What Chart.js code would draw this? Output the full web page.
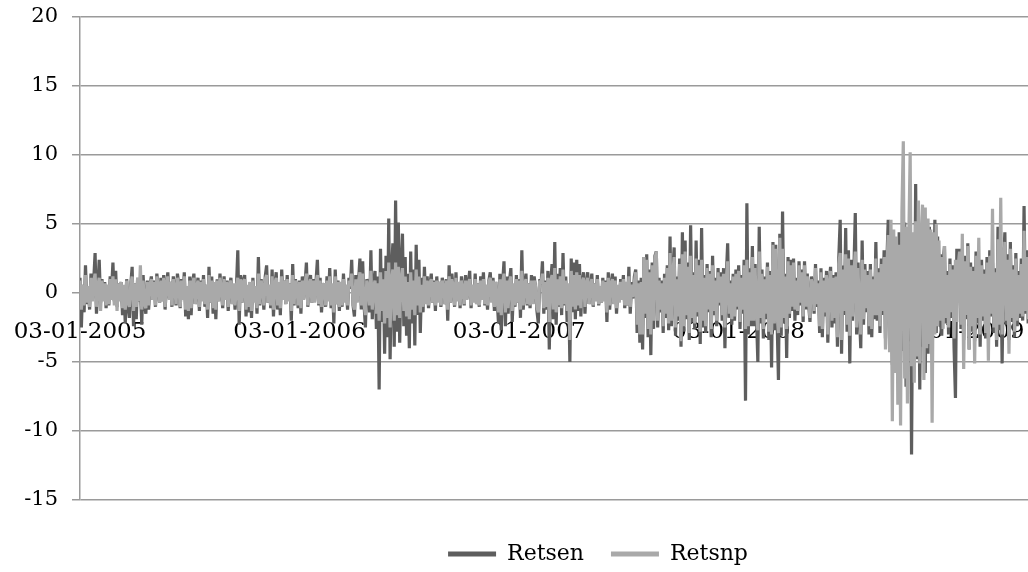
<!DOCTYPE html>
<html>
<head>
<meta charset="utf-8">
<script src="https://cdn.jsdelivr.net/npm/chart.js@4/dist/chart.umd.min.js"></script>
<style>
  html, body { margin: 0; padding: 0; background: #ffffff; overflow: hidden; width: 1028px; height: 572px; }
  #wrap { width: 1116px; height: 572px; }
</style>
</head>
<body>
<div id="wrap"><canvas id="c" width="1116" height="572"></canvas></div>
<script>
// Daily returns (%), one value per trading-day sample, Jan 2005 – Apr 2009
const retsen = [
  1.1, -2.5, 0.6, -1.4, 2.0, -0.8, 0.3, -1.2, 1.4, -0.5,
  0.9, 2.9, -1.5, 0.4, 2.4, -0.7, 1.0, -0.3, 0.8, -1.1,
  0.5, -0.9, 1.2, 0.2, 2.2, -0.6, 1.6, -1.0, 0.7, -0.4,
  0.8, -1.6, 0.3, -2.2, 1.0, -0.9, -1.8, 0.6, 1.9, -2.4,
  0.7, -1.9, 1.1, -0.6, 0.4, -2.3, 1.3, -0.8, -1.5, 0.9,
  -1.2, 0.6, 1.2, -0.5, 0.9, -1.0, 1.4, 0.3, -0.7, 1.1,
  -0.6, 1.3, -1.2, 0.5, 1.5, -0.4, 0.8, -1.0, 1.2, 0.2,
  -0.9, 1.4, 0.6, -1.1, 1.0, -0.3, 1.5, -1.7, 0.4, -1.9,
  1.2, -1.6, 0.7, 1.4, -0.8, 0.3, 1.1, -1.3, 0.9, -0.5,
  1.3, -1.0, 0.6, -1.8, 1.9, -0.7, 1.2, -1.5, 0.8, -1.9,
  1.0, -0.6, 1.4, 0.2, -1.1, 1.2, -0.4, 0.9, -1.3, 0.5,
  1.1, -0.8, 0.6, -1.2, 0.4, 3.1, -2.3, 1.3, -0.7, 0.9,
  1.3, -1.7, 0.5, -1.4, 0.8, -1.8, 1.1, -0.6, 0.4, -1.5,
  2.6, -0.9, 1.0, 0.3, -1.2, 1.2, 2.0, -0.7, 0.5, -1.1,
  1.7, -1.7, 0.6, 1.5, -1.2, 0.8, -1.6, 1.7, -0.4, 0.9,
  -0.8, 1.3, -0.5, 0.7, -2.0, 2.1, -0.9, 1.0, 0.3, -1.1,
  0.9, -1.5, 1.2, -0.4, 0.6, 2.2, -1.0, 0.5, 1.3, -0.7,
  1.0, -0.6, 0.8, 2.4, -0.9, 1.1, -1.4, 0.4, 0.7, -1.0,
  1.2, -0.5, 1.8, -1.1, 0.6, -2.2, 1.7, -0.8, 0.9, -1.3,
  0.8, -1.0, 1.4, -0.6, 0.5, -1.2, 1.1, 0.3, 2.4, -0.9,
  -1.7, 1.3, -0.6, 0.9, 2.5, -1.2, 2.3, -0.8, -2.5, 1.0,
  0.6, -1.4, 3.1, -1.9, 0.8, 1.6, -2.6, 1.2, -7.0, 3.2,
  -2.1, 1.8, -4.4, 2.7, -3.2, 5.4, -4.8, 1.5, 3.6, -3.9,
  6.7, -2.8, 5.1, -3.6, 1.9, 4.3, -2.4, 2.6, -3.1, 1.4,
  -4.0, 3.0, -2.2, 1.7, -3.8, 3.5, -1.6, 2.4, -2.9, 1.1,
  -1.4, 1.9, -0.8, 1.2, -1.1, 0.6, 1.4, -0.7, 0.9, -1.3,
  1.2, -0.6, 0.8, -1.0, 1.1, 0.4, -0.8, 1.0, -2.0, 2.0,
  -0.7, 1.4, 0.3, -1.0, 1.5, -0.5, 0.8, -1.1, 1.2, 0.2,
  -0.9, 1.3, -0.4, 0.6, 1.6, -1.1, 0.5, -0.6, 1.4, -0.8,
  0.7, -1.0, 1.2, -0.3, 1.5, -0.9, 0.4, -1.2, 0.9, 1.5,
  -0.6, 1.1, -1.3, 0.8, -0.5, -2.2, 1.4, -2.7, 0.7, 2.3,
  -2.4, 1.2, -1.5, 0.9, 1.8, -2.1, 0.6, -1.0, 1.3, -0.7,
  1.0, -1.8, 3.1, -1.2, 0.5, 1.4, -0.9, 0.7, -1.1, 1.3,
  -0.8, 1.2, 0.4, -1.3, -2.2, 1.0, 0.6, 2.3, -1.5, 0.9,
  -1.2, 1.6, -4.1, 0.8, 2.1, -1.9, 3.7, -2.3, 1.4, -1.0,
  1.8, -1.6, 2.9, -0.9, 1.2, -2.1, 0.6, -5.0, 2.5, -1.4,
  2.2, -1.9, 2.4, -1.3, 2.1, -1.7, 0.8, 1.5, -1.5, 0.6,
  1.5, -0.8, 0.4, 1.4, -1.0, 0.7, -0.5, 1.3, -0.9, 0.3,
  -0.7, 1.1, -0.4, 0.9, -2.1, 1.5, -1.2, 0.6, 1.4, -0.8,
  1.2, -1.5, 0.5, -0.6, 1.0, -0.3, 1.3, -1.1, 0.7, -0.9,
  1.9, -1.5, 0.8, -0.4, 1.2, 1.7, -2.9, 0.9, -3.6, 1.1,
  -4.1, 2.6, -1.8, 2.8, -3.2, 1.7, -4.5, 2.2, -2.6, 2.7,
  3.0, -2.5, 1.1, -1.4, 0.9, -2.9, 1.4, -1.8, 2.0, -2.7,
  4.1, -2.4, 1.6, 3.3, -3.1, 1.2, -2.0, 2.5, -3.9, 4.4,
  -2.8, 3.8, -1.9, 2.2, -3.4, 4.9, -2.1, 1.5, -2.6, 3.8,
  -1.7, 2.4, -3.7, 4.7, -2.5, 1.3, -2.9, 2.1, -1.4, 1.6,
  -3.2, 2.7, -1.6, 1.1, -2.4, 1.8, -0.9, 1.5, -2.0, 1.8,
  -4.0, 1.2, 3.6, -1.8, 0.9, -2.3, 1.4, -2.0, 1.7, -1.2,
  2.0, -2.6, 1.3, -1.5, 2.4, -7.8, 6.5, -3.0, 1.8, -2.4,
  3.4, -2.4, 2.1, -1.7, -5.0, 4.8, -2.2, 1.7, -3.3, 1.2,
  -1.9, 2.2, -3.4, 1.6, -5.4, 3.7, -2.7, 3.5, -1.8, -6.3,
  4.3, -3.1, 5.9, -2.2, 1.4, -4.7, 2.6, -1.8, 2.4, -1.3,
  2.5, -2.0, 1.1, -1.6, 2.3, -0.9, 1.7, -2.1, 2.3, -1.2,
  1.4, -0.8, -2.1, 1.2, 0.6, -1.5, 2.1, -1.0, 0.9, -2.9,
  1.8, -3.2, 1.1, -1.7, 1.6, -3.6, 0.8, 1.9, -2.5, 1.3,
  -2.2, 1.5, -3.9, 2.6, 5.3, -4.4, 2.0, -1.6, 4.7, -2.8,
  3.1, -5.1, 2.4, -2.0, 1.7, 5.8, -3.0, 2.2, -1.5, -4.0,
  3.8, -2.3, 2.1, -1.4, 1.6, -3.0, 2.1, -3.2, 1.2, -1.9,
  3.7, -2.0, 1.8, -2.9, 2.5, -1.6, 3.1, -3.3, 2.2, 5.3,
  -3.8, 4.1, -5.2, 2.9, -4.6, 3.8, -6.1, 4.4, -5.0, 3.2,
  -4.2, 5.1, -6.8, 4.0, -3.5, 6.2, -11.7, 3.9, -5.5, 7.9,
  -4.8, 5.6, -7.0, 4.2, -3.9, 5.0, -5.8, 3.6, -4.4, 4.8,
  -3.4, 3.9, -2.6, 5.3, -2.9, 4.1, -2.4, 2.8, -3.1, 2.2,
  3.4, -2.2, 1.6, -3.0, 2.5, -1.8, 2.0, -4.0, -7.6, 3.2,
  2.4, 3.2, -2.6, 1.8, -3.4, 2.7, -1.9, 3.6, -4.1, 2.2,
  -2.8, 1.9, -3.5, 3.0, -2.2, 1.5, -3.9, 2.4, -2.0, 1.7,
  -3.3, 2.6, -2.4, 3.1, -1.7, 2.2, -2.9, 1.8, -3.9, 4.8,
  -2.7, 3.3, -5.1, 1.9, 4.4, -2.3, 2.8, -3.4, 3.7, -2.1,
  2.0, -3.2, 2.9, -2.4, 1.6, -1.8, 2.5, -2.0, 6.3, -1.5,
  3.1, -2.2
];

const retsnp = [
  0.9, -1.2, 0.6, -0.9, 1.3, -0.7, 0.5, -1.0, 1.1, -0.6,
  0.8, 1.4, -1.0, 0.5, 1.1, -1.3, 0.9, -0.6, 0.7, -0.9,
  0.6, -0.8, 1.0, -0.5, 1.2, -0.9, 1.0, -1.3, 0.7, -0.6,
  0.8, -1.1, 0.6, -1.2, 0.9, -0.7, -1.0, 0.6, 1.2, -1.3,
  0.7, -1.0, 1.1, -0.6, 2.0, -1.2, 0.9, -0.8, -1.1, 0.8,
  -0.9, 0.6, 1.0, -0.5, 0.8, -0.9, 1.2, 0.5, -0.7, 0.9,
  -0.6, 1.1, -1.0, 0.7, 1.2, -0.5, 0.8, -0.9, 1.0, 0.4,
  -0.8, 1.1, 0.6, -1.0, 0.9, -0.5, 1.2, -1.2, 0.5, -1.3,
  0.9, -1.1, 0.7, 1.1, -0.8, 0.5, 0.9, -1.0, 0.8, -0.6,
  1.0, -0.8, 0.6, -1.2, 1.3, -0.7, 0.9, -1.1, 0.8, -1.2,
  0.9, -0.6, 1.1, 0.4, -0.9, 1.0, -0.5, 0.8, -1.0, 0.6,
  0.9, -0.8, 0.7, -0.9, 0.5, 1.1, -1.3, 1.0, -0.7, 0.8,
  1.0, -1.2, 0.6, -1.0, 0.8, -1.3, 0.9, -0.7, 0.5, -1.1,
  1.4, -0.8, 0.9, 0.5, -0.9, 1.0, 1.3, -0.7, 0.6, -0.9,
  1.2, -1.2, 0.7, 1.1, -0.9, 0.8, -1.1, 1.2, -0.5, 0.9,
  -0.8, 1.0, -0.6, 0.7, -1.3, 1.3, -0.8, 0.9, 0.5, -0.9,
  0.8, -1.1, 0.9, -0.5, 0.7, 1.4, -0.9, 0.6, 1.0, -0.7,
  0.9, -0.7, 0.8, 1.3, -0.8, 0.9, -1.0, 0.5, 0.7, -0.9,
  0.9, -0.6, 1.2, -0.9, 0.7, -1.4, 1.2, -0.8, 0.8, -1.0,
  0.8, -0.9, 1.0, -0.7, 0.6, -0.9, 0.9, 0.5, 1.4, -0.8,
  -1.2, 1.0, -0.7, 0.8, 1.5, -0.9, 1.4, -0.8, -1.6, 0.9,
  0.4, -0.9, 1.6, -1.2, 0.5, 0.9, -1.5, 0.7, -2.0, 1.5,
  -1.3, 1.0, -2.2, 1.6, -1.8, 2.2, -2.5, 0.9, 1.7, -2.0,
  2.2, -1.6, 1.9, -1.8, 1.0, 1.8, -1.3, 1.2, -1.7, 0.8,
  -1.9, 1.5, -1.2, 0.9, -1.6, 1.7, -0.9, 1.2, -1.4, 0.6,
  -1.0, 1.2, -0.8, 0.9, -0.9, 0.7, 1.0, -0.7, 0.8, -0.9,
  0.9, -0.7, 0.8, -0.9, 0.9, 0.5, -0.8, 0.9, -1.2, 1.2,
  -0.7, 1.0, 0.5, -0.9, 1.1, -0.6, 0.8, -0.9, 0.9, 0.4,
  -0.8, 0.9, -0.5, 0.7, 1.0, -0.9, 0.6, -0.7, 1.0, -0.8,
  0.7, -0.9, 0.9, -0.5, 1.0, -0.8, 0.6, -0.9, 0.8, 1.1,
  -0.7, 0.9, -1.0, 0.8, -0.6, -1.4, 1.0, -1.6, 0.7, 1.4,
  -1.4, 0.9, -1.1, 0.8, 1.2, -1.3, 0.7, -0.9, 1.0, -0.7,
  0.9, -1.2, 1.6, -0.9, 0.6, 1.0, -0.8, 0.7, -0.9, 0.9,
  -0.8, 0.9, 0.5, -1.0, -1.4, 0.9, 0.7, 1.4, -1.1, 0.8,
  -1.0, 1.1, -2.1, 0.8, 1.3, -1.2, 1.8, -1.4, 1.0, -0.9,
  1.2, -1.1, 1.7, -0.8, 0.9, -1.3, 0.7, -3.4, 1.6, -1.0,
  1.3, -1.2, 1.5, -0.9, 1.3, -1.1, 0.8, 1.1, -1.0, 0.7,
  1.1, -0.8, 0.6, 1.0, -0.9, 0.7, -0.6, 1.0, -0.8, 0.5,
  -0.7, 0.9, -0.6, 0.8, -1.4, 1.1, -0.9, 0.7, 1.0, -0.8,
  0.9, -1.1, 0.6, -0.7, 0.8, -0.5, 1.0, -0.9, 0.8, -0.9,
  1.2, -1.0, 0.6, -0.3, 0.8, 1.5, -2.3, 0.7, -3.0, 0.8,
  -3.0, 2.6, -1.5, 2.4, -2.6, 1.5, -3.0, 2.0, -2.0, 2.4,
  3.0, -2.0, 0.9, -1.2, 0.7, -2.4, 1.1, -1.5, 1.8, -2.2,
  2.9, -2.0, 1.4, 2.6, -2.5, 1.0, -1.7, 2.1, -3.5, 2.8,
  -2.4, 3.0, -1.6, 1.9, -2.9, 2.7, -1.8, 1.3, -2.2, 2.5,
  -1.4, 2.0, -2.8, 2.4, -2.0, 1.1, -2.4, 1.8, -1.2, 1.4,
  -2.6, 2.0, -1.3, 0.9, -2.0, 1.5, -0.7, 1.2, -1.6, 1.4,
  -2.5, 1.0, 2.3, -1.5, 0.7, -1.9, 1.2, -1.7, 1.4, -1.0,
  1.6, -2.1, 1.1, -1.2, 2.0, -2.6, 2.4, -2.4, 1.5, -2.0,
  2.6, -2.0, 1.8, -1.4, -2.7, 3.0, -1.8, 1.4, -2.6, 1.0,
  -1.5, 1.9, -2.8, 1.3, -3.0, 3.5, -2.2, 3.2, -1.5, -2.9,
  4.0, -2.5, 3.2, -1.8, 1.2, -2.6, 2.3, -1.5, 2.0, -1.0,
  2.2, -1.2, 0.9, -1.3, 2.0, -0.7, 1.5, -1.7, 2.0, -1.0,
  1.2, -0.7, -1.8, 1.0, 0.5, -1.3, 1.8, -0.8, 0.7, -2.4,
  1.5, -2.6, 0.9, -1.4, 1.3, -3.0, 0.6, 1.6, -2.0, 1.1,
  -1.8, 1.2, -3.2, 2.1, 2.9, -3.4, 1.7, -1.3, 2.8, -2.3,
  2.5, -3.1, 2.0, -1.7, 1.4, 3.0, -2.5, 1.8, -1.2, -3.0,
  2.4, -1.9, 1.7, -1.1, 1.3, -2.4, 1.7, -2.6, 1.0, -1.6,
  2.5, -1.6, 1.5, -2.4, 2.1, -1.3, 2.6, -4.1, 1.8, 4.2,
  -4.3, 5.3, -9.3, 4.6, -5.8, 4.1, -8.1, 3.5, -9.6, 6.0,
  11.0, -6.2, 4.8, -8.0, 3.9, 10.2, -5.3, 4.4, -6.5, 5.2,
  -4.6, 6.7, -5.1, 3.8, 6.4, -6.3, 6.2, -4.0, 5.4, -3.7,
  4.6, -9.4, 4.4, -3.0, 5.0, -2.4, 3.8, -2.0, 2.6, -2.6,
  3.4, -1.8, 1.3, -2.5, 2.1, -1.4, 1.7, -3.3, 2.4, -2.1,
  2.0, 3.0, -2.3, 4.3, -5.5, 2.3, -1.6, 3.4, -4.1, 1.9,
  -2.4, 1.6, -5.1, 2.7, -1.8, 4.0, -3.0, 2.0, -1.7, 1.4,
  -2.9, 2.2, -4.9, 2.7, -1.5, 6.1, -2.5, 1.5, -3.4, 3.9,
  -2.3, 6.9, -3.0, 1.6, 3.7, -2.0, 2.4, -4.4, 3.2, -1.8,
  1.7, -2.8, 2.5, -2.0, 1.3, -1.5, 2.1, -1.7, 4.5, -1.3,
  2.6, -1.9
];

// x categories: trading-day sample index
const dayIndex = retsen.map((_, i) => i);
// x tick labels and the sample index where each falls
const tickLabels = ['03-01-2005', '03-01-2006', '03-01-2007', '03-01-2008', '03-01-2009'];
const tickIndex = [0, 160, 320, 480, 640];
// y ticks
const yTicks = [-15, -10, -5, 0, 5, 10, 15, 20];

const gridGray = '#9a9a9a';
const serif = 'DejaVu Serif';

new Chart(document.getElementById('c'), {
  type: 'line',
  data: {
    labels: dayIndex,
    datasets: [
      {
        label: 'Retsen',
        data: retsen,
        borderColor: '#5e5e5e',
        backgroundColor: '#5e5e5e',
        borderWidth: 3.2,
        pointRadius: 0,
        tension: 0,
        borderJoinStyle: 'bevel',
        order: 2
      },
      {
        label: 'Retsnp',
        data: retsnp,
        borderColor: '#a9a9a9',
        backgroundColor: '#a9a9a9',
        borderWidth: 3.2,
        pointRadius: 0,
        tension: 0,
        borderJoinStyle: 'bevel',
        order: 1
      }
    ]
  },
  options: {
    responsive: false,
    animation: false,
    devicePixelRatio: 1,
    layout: { padding: { top: 17, left: 0, right: 0, bottom: -3 } },
    plugins: {
      tooltip: { enabled: false },
      legend: {
        position: 'bottom',
        fullSize: false,
        title: { display: true, text: '', font: { size: 10, lineHeight: 1 }, padding: { top: 3, bottom: 3 } },
        labels: {
          boxWidth: 48,
          boxHeight: 5,
          padding: 27,
          color: '#000000',
          font: { family: serif, size: 22 },
          sort: (a, b) => a.datasetIndex - b.datasetIndex,
          generateLabels: (chart) =>
            Chart.defaults.plugins.legend.labels.generateLabels(chart).map(l => ({ ...l, lineWidth: 0 }))
        }
      }
    },
    scales: {
      x: {
        type: 'linear',
        position: { y: 0 },
        min: 0,
        max: 755,
        z: 1,
        grid: { display: false, drawTicks: false },
        border: { display: false },
        afterBuildTicks: (scale) => { scale.ticks = tickIndex.map(v => ({ value: v })); },
        afterFit: (scale) => { scale.paddingLeft = 0; scale.paddingRight = 0; scale.paddingTop = 0; scale.paddingBottom = 0; },
        ticks: {
          autoSkip: false,
          maxRotation: 0,
          padding: 25,
          color: '#000000',
          font: { family: serif, size: 23 },
          callback: (v) => { const k = tickIndex.indexOf(v); return k >= 0 ? tickLabels[k] : ''; }
        }
      },
      y: {
        type: 'linear',
        min: -15,
        max: 20,
        afterBuildTicks: (scale) => { scale.ticks = yTicks.map(v => ({ value: v })); },
        afterFit: (scale) => { scale.width = 80; scale.paddingTop = 0; scale.paddingBottom = 0; },
        grid: { color: gridGray, lineWidth: 1.5, tickLength: 8, tickColor: gridGray },
        border: { color: gridGray, width: 1.5 },
        ticks: {
          padding: 14,
          color: '#000000',
          font: { family: serif, size: 21 }
        }
      }
    }
  }
});
</script>
</body>
</html>
